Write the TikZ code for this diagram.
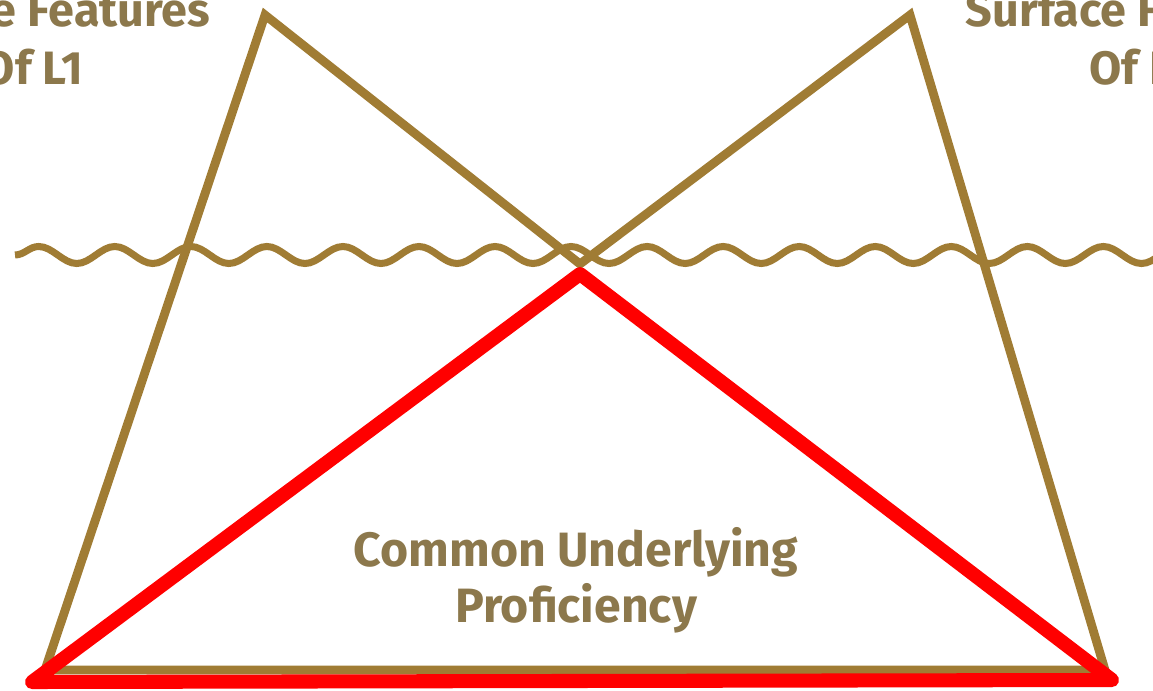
\documentclass[tikz,border=0pt]{standalone}
\usepackage{fontspec}
\setmainfont{Fira Sans}
\usetikzlibrary{decorations.pathmorphing}
\definecolor{lineBrown}{RGB}{160,124,52}
\definecolor{textBrown}{RGB}{140,120,76}

\begin{document}
\begin{tikzpicture}[x=0.01cm,y=-0.01cm,lineBrown,line width=2.5pt]
\useasboundingbox (0,0) rectangle (1153,691);
\clip (0,0) rectangle (1153,691);

% Corners of the two icebergs
\coordinate (baseL) at (45,670);
\coordinate (peakL) at (265,15);
\coordinate (meet) at (580,264);
\coordinate (peakR) at (910,15);
\coordinate (baseR) at (1105,670);

% Water line
\coordinate (waveL) at (15,255);
\coordinate (waveR) at (1240,255);
\draw[line width=2pt,
    decoration={snake, segment length=0.76cm, amplitude=0.085cm},
    decorate] (waveL) -- (waveR);

% Icebergs
\draw[line join=miter] (baseL) -- (peakL) -- (meet) -- (peakR) -- (baseR) -- cycle;

% Common part
\coordinate (redL) at (32,682);
\coordinate (redTop) at (580,274);
\coordinate (redR) at (1112,680);
\draw[red,line width=4pt,line join=round,line cap=round]
    (redL) -- (redTop) -- (redR) -- cycle;

% Labels
\node[textBrown,align=center,font=\bfseries\fontsize{13.3}{16.5}\selectfont]
    (surfL1) at (33,38) {Surface Features\\Of L1};
\node[textBrown,align=center,font=\bfseries\fontsize{13.3}{16.5}\selectfont]
    (surfL2) at (1143,38) {Surface Features\\Of L2};
\node[textBrown,align=center,font=\bfseries\fontsize{13.7}{16}\selectfont]
    (cup) at (576,580) {Common Underlying\\Proficiency};

\end{tikzpicture}
\end{document}
